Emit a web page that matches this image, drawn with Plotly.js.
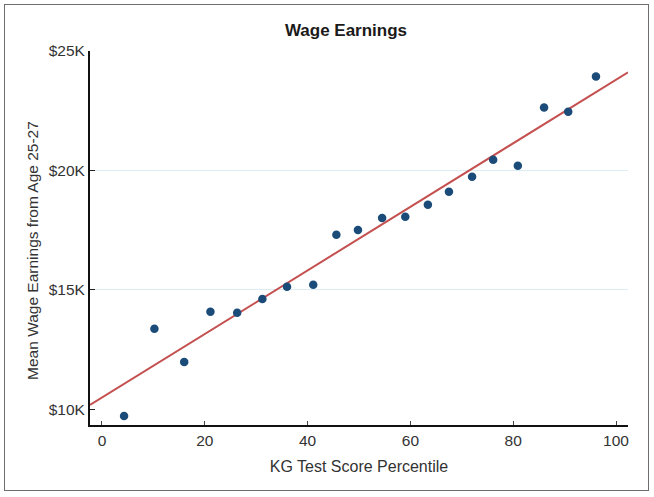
<!DOCTYPE html>
<html>
<head>
<meta charset="utf-8">
<script src="https://cdn.plot.ly/plotly-3.0.1.min.js"></script>
<style>
  body { margin: 0; background: #fff; }
  #chart { width: 654px; height: 497px; }
  #frame {
    position: absolute; left: 4px; top: 4px; width: 643px; height: 485px;
    border: 1.5px solid #6e6e6e; pointer-events: none;
  }
</style>
</head>
<body>
<div id="chart"></div>
<div id="frame"></div>
<script>
'use strict'

// binned means

const percentile = [4.3, 10.2, 16.0, 21.1, 26.3, 31.2, 36.0, 41.1, 45.6, 49.8,
  54.5, 59.0, 63.4, 67.5, 72.0, 76.1, 80.9, 86.0, 90.7, 96.1]
const earnings = [9720, 13370, 11980, 14080, 14040, 14620, 15130, 15210, 17310, 17510,
  18010, 18060, 18560, 19110, 19740, 20450, 20200, 22630, 22460, 23930]

// fitted line, endpoints at the edges of the x range
const fitX = [-2.33, 102.33]
const fitY = [10180, 24110]

const yTicks = [10000, 15000, 20000, 25000]
const yLabels = ['$10K', '$15K', '$20K', '$25K']
const gridTicks = [15000, 20000]
const xTicks = [0, 20, 40, 60, 80, 100]

///////////////////////////////////////////////////////

const font = 'Liberation Sans, Arial, sans-serif'
const yRange = [9342, 25000]

const points = {
  type: 'scatter',
  mode: 'markers',
  x: percentile,
  y: earnings,
  marker: { color: '#1b4b78', size: 8.5 },
  hoverinfo: 'x+y'
}

const fit = {
  type: 'scatter',
  mode: 'lines',
  x: fitX,
  y: fitY,
  line: { color: '#c4504f', width: 2 },
  hoverinfo: 'none'
}

// empty trace so the grid axis gets drawn
const grid = { type: 'scatter', mode: 'none', x: [], y: [], yaxis: 'y2', hoverinfo: 'none' }

const layout = {
  width: 654,
  height: 497,
  margin: { l: 90, r: 26, t: 51, b: 72 },
  paper_bgcolor: '#fff',
  plot_bgcolor: '#fff',
  showlegend: false,
  font: { family: font, color: '#333', size: 15 },
  title: {
    text: 'Wage Earnings',
    font: { family: font, size: 17, color: '#1a1a1a', weight: 'bold' },
    x: 0.529, xref: 'container', xanchor: 'center',
    y: 0.94, yref: 'container', yanchor: 'middle'
  },
  xaxis: {
    range: [-2.33, 102.33],
    tickvals: xTicks,
    ticks: 'inside', ticklen: 4, tickwidth: 1, tickcolor: '#444',
    showline: true, linecolor: '#111', linewidth: 2,
    showgrid: false, zeroline: false,
    tickfont: { size: 15.5, color: '#333' },
    title: { text: 'KG Test Score Percentile', font: { size: 16, color: '#333' }, standoff: 13 }
  },
  yaxis: {
    range: yRange,
    tickvals: yTicks,
    ticktext: yLabels,
    ticks: 'inside', ticklen: 5, tickwidth: 1, tickcolor: '#222',
    showline: true, linecolor: '#111', linewidth: 2,
    showgrid: false, zeroline: false,
    tickfont: { size: 15.5, color: '#333' }
  },
  yaxis2: {
    overlaying: 'y',
    range: yRange,
    tickvals: gridTicks,
    showticklabels: false,
    ticks: '',
    showline: false,
    showgrid: true, gridcolor: '#dcecf3', gridwidth: 1,
    zeroline: false,
    layer: 'below traces'
  },
  annotations: [{
    text: 'Mean Wage Earnings from Age 25-27',
    textangle: -90,
    xref: 'paper', yref: 'paper',
    x: -0.106, y: 0.468,
    xanchor: 'center', yanchor: 'middle',
    showarrow: false,
    font: { size: 15.5, color: '#333' }
  }]
}

Plotly.newPlot('chart', [grid, fit, points], layout, { displayModeBar: false, staticPlot: true })
</script>
</body>
</html>
